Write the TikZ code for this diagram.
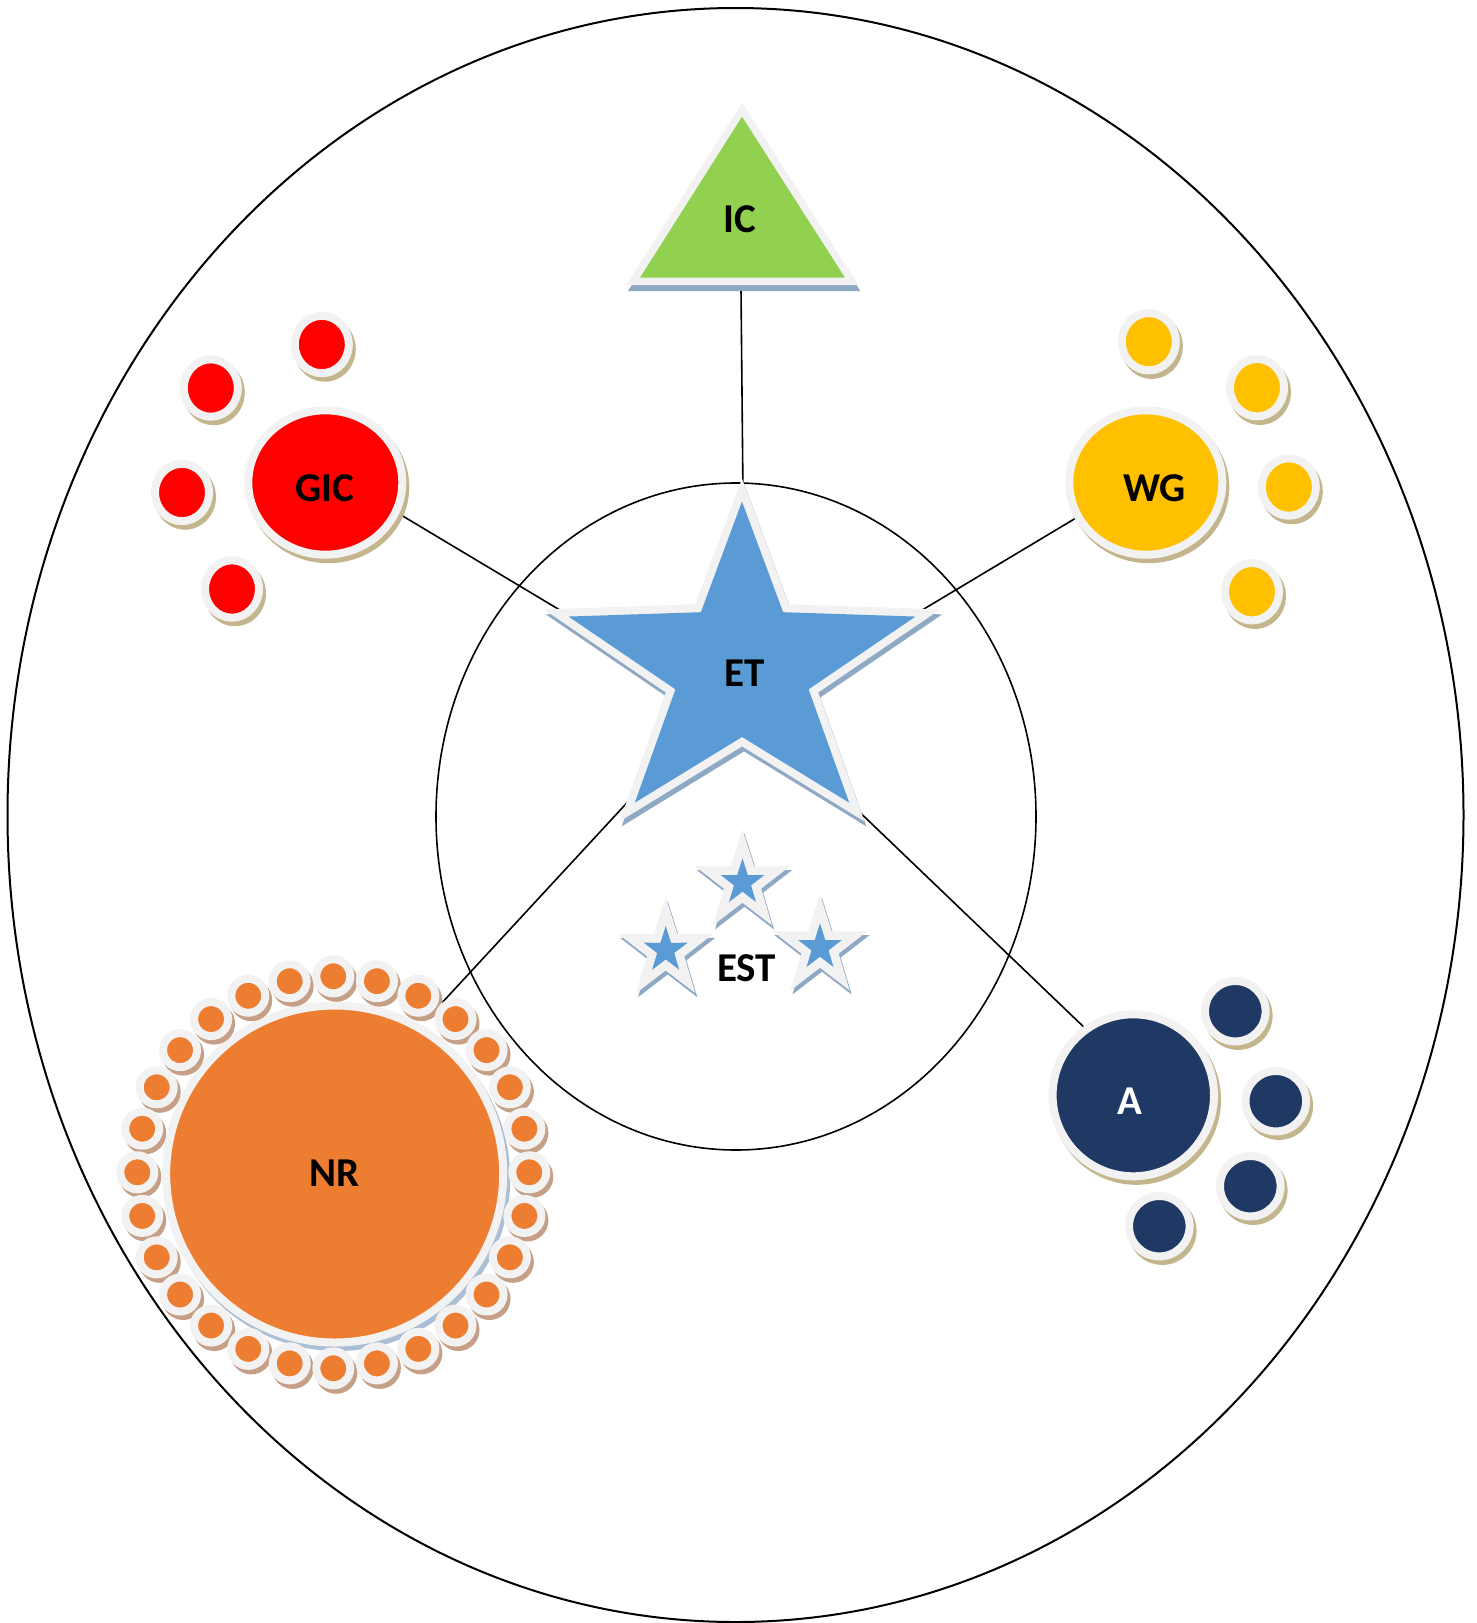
\documentclass[tikz,border=0pt]{standalone}
\usepackage{fontspec}
\setmainfont{Carlito}
\usetikzlibrary{shapes.geometric}
\pgfdeclarelayer{bg}
\pgfsetlayers{bg,main}
\definecolor{rim}{HTML}{F2F2F2}
\definecolor{etblue}{HTML}{5B9BD5}
\definecolor{starsh}{RGB}{143,168,196}
\definecolor{tansh}{RGB}{196,182,140}
\definecolor{orsh}{RGB}{197,160,134}
\definecolor{nrsh}{RGB}{170,190,212}
\definecolor{icgreen}{HTML}{92D050}
\definecolor{gicred}{HTML}{FF0000}
\definecolor{wgyellow}{HTML}{FFC000}
\definecolor{nrorange}{HTML}{ED7D31}
\definecolor{anavy}{HTML}{1F3864}
% star path: cx cy Rx Ry rx ry
\newcommand\starpath[6]{(#1,#2-#4) \foreach \k in {1,...,9}{ -- ({#1+ifthenelse(mod(\k,2),#5,#3)*cos(90+36*\k)},{#2-ifthenelse(mod(\k,2),#6,#4)*sin(90+36*\k)}) } -- cycle}
% blob: name x y rx ry fill shadow
\newcommand\blob[7]{%
  \fill[#7] (#2+3,#3+4.5) ellipse [x radius=#4+8, y radius=#5+8];
  \node[dot=#6, minimum width={2*#4*1pt+8pt}, minimum height={2*#5*1pt+8pt}] (#1) at (#2,#3) {};}
\tikzset{
  dot/.style={ellipse, draw=rim, line width=8pt, inner sep=0pt, outer sep=4pt, fill=#1},
  conn/.style={draw=black, line width=1.6pt},
  frame/.style={ellipse, draw=black, inner sep=0pt},
  lbl/.style={font=\bfseries\fontsize{41}{49}\selectfont, inner sep=0pt},
}
\begin{document}
\begin{tikzpicture}[x=1pt,y=-1pt]
\useasboundingbox (0,0) rectangle (1477,1623);

% ---- IC triangle
\fill[starsh] (744.3,108.7) -- (860.3,291) -- (628,291) -- cycle;
\fill[rim] (742.3,102.7) -- (858.3,285) -- (626,285) -- cycle;
\fill[icgreen] (742,116.7) -- (845,277.7) -- (640,277.7) -- cycle;
\node[lbl] (IC) at (739.5,219) {IC};
\coordinate (ICbase) at (741,289);

% ---- ET star
\filldraw[starsh, line width=16pt, shift={(2,5)}] \starpath{742}{668}{182.4}{166.5}{70}{69};
\filldraw[rim, line width=16pt] \starpath{742}{668}{182.4}{166.5}{70}{69};
\fill[etblue] \starpath{742}{668}{182.4}{166.5}{70}{69};
\node[lbl] (ET) at (744.5,673) {ET};
\coordinate (ETtop) at (743,495);
\coordinate (ETgic) at (566.5,614);
\coordinate (ETwg) at (912.4,615.9);
\coordinate (ETnr) at (633.7,795.5);
\coordinate (ETa) at (853.8,806.6);

% ---- EST stars
\foreach \sx/\sy in {742.5/882.5, 665.7/950.2, 820/947.5}{
  \filldraw[starsh, line width=17.5pt, shift={(2,4)}] \starpath{\sx}{\sy}{23}{24.2}{9}{9.2};
  \filldraw[rim, line width=17.5pt] \starpath{\sx}{\sy}{23}{24.2}{9}{9.2};
  \fill[etblue] \starpath{\sx}{\sy}{23}{24.2}{9}{9.2};
}
\node[lbl] (EST) at (746.5,968) {EST};

% ---- GIC cluster
\blob{GIC}{325.3}{482.5}{73}{68.2}{gicred}{tansh}
\blob{g1}{321.8}{344.5}{23}{24.7}{gicred}{tansh}
\blob{g2}{210.8}{388}{23}{24.7}{gicred}{tansh}
\blob{g3}{182}{492.5}{23}{24.7}{gicred}{tansh}
\blob{g4}{232}{589}{23}{24.7}{gicred}{tansh}
\node[lbl] (GICt) at (325,488) {GIC};

% ---- WG cluster
\blob{WG}{1145.8}{482.5}{72.5}{68.2}{wgyellow}{tansh}
\blob{w1}{1148.8}{341.7}{23}{24.7}{wgyellow}{tansh}
\blob{w2}{1257}{387.7}{23}{24.7}{wgyellow}{tansh}
\blob{w3}{1288.8}{487}{23}{24.7}{wgyellow}{tansh}
\blob{w4}{1252}{591.7}{23}{24.7}{wgyellow}{tansh}
\node[lbl] (WGt) at (1154.5,488) {WG};

% ---- A cluster
\blob{A}{1133.3}{1095.3}{76.7}{77}{anavy}{tansh}
\blob{a1}{1235.3}{1011.2}{26.3}{26.2}{anavy}{tansh}
\blob{a2}{1275.8}{1101.2}{26.3}{26.2}{anavy}{tansh}
\blob{a3}{1250.3}{1186.2}{26.3}{26.2}{anavy}{tansh}
\blob{a4}{1159.3}{1226.2}{26.3}{26.2}{anavy}{tansh}
\node[lbl, text=white] (At) at (1130,1101) {A};

% ---- NR cluster
\blob{NR}{334.7}{1174}{164.5}{164.5}{nrorange}{nrsh}
\foreach \k in {0,...,27}{
  \fill[orsh] ({333.3+196*cos(90-12.857*\k)+3},{1172.3-196*sin(90-12.857*\k)+4.5}) circle [radius=21];
}
\foreach \k in {0,...,27}{
  \node[dot=nrorange, minimum size=34pt] (nr\k) at ({333.3+196*cos(90-12.857*\k)},{1172.3-196*sin(90-12.857*\k)}) {};
}
\node[lbl] (NRt) at (334.5,1173) {NR};

% ---- frames and connectors (behind)
\begin{pgfonlayer}{bg}
  \node[frame, line width=2pt, minimum width=1456pt, minimum height=1614pt] (outer) at (735.5,815) {};
  \node[frame, line width=1.6pt, minimum width=600pt, minimum height=667pt] (inner) at (736,816.5) {};
  \draw[conn] (ICbase) -- (ETtop);
  \draw[conn] (GIC.-23) -- (ETgic);
  \draw[conn] (WG.207) -- (ETwg);
  \draw[conn] (ETnr) -- (nr3.141);
  \draw[conn] (ETa) -- (A.126);
\end{pgfonlayer}
\end{tikzpicture}
\end{document}
